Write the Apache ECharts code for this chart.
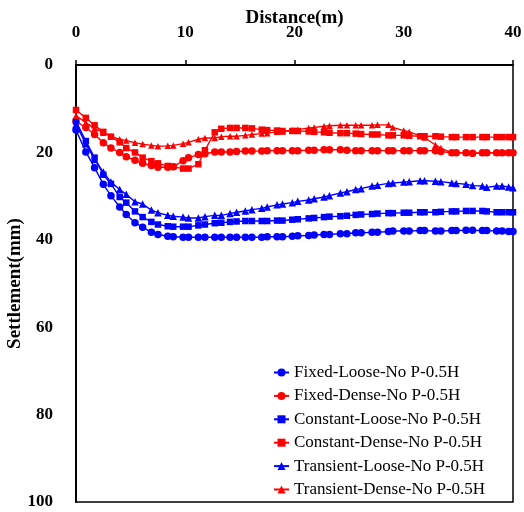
<!DOCTYPE html>
<html>
<head>
<meta charset="utf-8">
<script src="https://cdn.jsdelivr.net/npm/echarts@6/dist/echarts.min.js"></script>
<style>
  html, body { margin: 0; padding: 0; background: #fff; }
  #chart { width: 524px; height: 512px; }
</style>
</head>
<body>
<div id="chart"></div>
<script>
// distance along the section (m)
const distance = [0, 0.9, 1.7, 2.5, 3.2, 4.0, 4.6, 5.4, 6.1, 6.9, 7.5, 8.4, 8.9, 9.8, 10.3,
  11.2, 11.8, 12.7, 13.3, 14.1, 14.7, 15.5, 16.1, 17.0, 17.5, 18.4, 18.9, 19.8, 20.3, 21.3,
  21.8, 22.7, 23.2, 24.2, 24.8, 25.6, 26.1, 27.1, 27.6, 28.6, 29.0, 30.0, 30.5, 31.5, 31.9,
  32.9, 33.4, 34.4, 34.8, 35.7, 36.3, 37.2, 37.6, 38.5, 39.0, 39.6, 40.0]

// settlement (mm)
const fixedLoose = [14.9, 19.9, 23.5, 27.3, 29.9, 32.5, 34.2, 36.1, 37.1, 38.3, 38.8, 39.2, 39.3, 39.4, 39.4,
  39.4, 39.4, 39.4, 39.4, 39.4, 39.4, 39.4, 39.4, 39.4, 39.3, 39.3, 39.3, 39.2, 39.1, 39.0,
  38.9, 38.8, 38.8, 38.6, 38.6, 38.4, 38.4, 38.3, 38.3, 38.1, 38.0, 38.0, 38.0, 37.9, 37.9,
  38.0, 38.0, 37.9, 37.9, 37.8, 37.8, 37.9, 37.9, 38.0, 38.0, 38.1, 38.1]
const fixedDense = [12.9, 14.3, 15.9, 17.8, 19.0, 20.0, 21.0, 21.8, 22.5, 23.0, 23.4, 23.4, 23.3, 21.9, 21.2,
  20.5, 20.3, 19.9, 19.9, 19.9, 19.8, 19.7, 19.7, 19.7, 19.6, 19.6, 19.6, 19.6, 19.6, 19.5,
  19.5, 19.4, 19.4, 19.4, 19.5, 19.6, 19.6, 19.6, 19.6, 19.6, 19.6, 19.6, 19.6, 19.6, 19.6,
  19.6, 19.8, 20.1, 20.1, 20.1, 20.2, 20.1, 20.1, 20.1, 20.1, 20.1, 20.1]
const constantLoose = [12.9, 17.4, 21.2, 25.1, 27.2, 30.2, 31.5, 33.5, 34.8, 35.9, 36.5, 36.9, 37.0, 37.0, 37.0,
  36.7, 36.5, 36.2, 36.1, 35.9, 35.8, 35.7, 35.7, 35.7, 35.7, 35.6, 35.6, 35.4, 35.3, 35.1,
  35.0, 34.8, 34.7, 34.6, 34.5, 34.3, 34.2, 34.1, 34.0, 33.9, 33.9, 33.8, 33.8, 33.7, 33.7,
  33.7, 33.6, 33.5, 33.5, 33.4, 33.4, 33.4, 33.5, 33.7, 33.7, 33.7, 33.7]
const constantDense = [10.3, 12.1, 13.8, 15.3, 16.4, 17.7, 19.0, 20.0, 21.2, 22.0, 22.5, 23.1, 23.3, 23.7, 23.7,
  22.7, 19.5, 15.4, 14.6, 14.4, 14.4, 14.4, 14.5, 14.8, 14.9, 15.0, 15.1, 15.1, 15.1, 15.2,
  15.3, 15.4, 15.5, 15.6, 15.6, 15.7, 15.8, 15.9, 15.9, 16.1, 16.1, 16.1, 16.2, 16.3, 16.3,
  16.3, 16.4, 16.5, 16.5, 16.5, 16.5, 16.5, 16.5, 16.5, 16.5, 16.5, 16.5]
const transientLoose = [13.6, 18.0, 21.6, 24.5, 26.8, 28.5, 29.6, 31.3, 31.8, 33.2, 33.8, 34.4, 34.6, 34.8, 35.0,
  35.0, 34.7, 34.4, 34.4, 34.0, 33.7, 33.4, 33.1, 32.8, 32.5, 32.0, 31.8, 31.5, 31.2, 30.9,
  30.6, 30.2, 29.9, 29.3, 29.0, 28.5, 28.3, 27.7, 27.5, 27.1, 27.0, 26.8, 26.7, 26.5, 26.5,
  26.6, 26.7, 27.0, 27.1, 27.3, 27.6, 27.7, 28.0, 27.7, 27.7, 27.9, 28.1]
const transientDense = [11.6, 13.2, 14.5, 15.5, 16.3, 17.0, 17.3, 17.8, 18.1, 18.4, 18.6, 18.5, 18.4, 18.0, 17.7,
  17.0, 16.7, 16.7, 16.4, 16.3, 16.3, 16.1, 15.9, 15.7, 15.6, 15.3, 15.2, 14.9, 14.8, 14.4,
  14.3, 14.0, 13.9, 13.8, 13.8, 13.8, 13.8, 13.8, 13.7, 13.7, 14.3, 15.0, 15.3, 16.2, 16.6,
  18.3, 19.0, 20.1, 20.1, 20.1, 20.2, 20.1, 20.1, 20.1, 20.1, 20.1, 20.1]

const xTicks = [0, 10, 20, 30, 40]
const yTicks = [0, 20, 40, 60, 80, 100]

const FONT = "'Liberation Serif', 'Times New Roman', serif"
const BLUE = '#0000ff'
const RED = '#ff0000'

function pairs(ys) {
  return distance.map((x, i) => [x, ys[i]])
}

function line(name, ys, color, symbol, size) {
  return {
    name,
    type: 'line',
    data: pairs(ys),
    symbol,
    symbolSize: size,
    showSymbol: true,
    lineStyle: { color, width: 1.4 },
    itemStyle: { color, borderWidth: 0 },
    emphasis: { disabled: true },
    animation: false
  }
}

const chart = echarts.init(document.getElementById('chart'))
chart.setOption({
  backgroundColor: '#fff',
  animation: false,
  grid: {
    left: 76, top: 65, right: 11, bottom: 10,
    outerBoundsMode: 'none', containLabel: false,
    show: true, borderColor: '#000', borderWidth: 1.5
  },
  legend: {
    orient: 'vertical',
    left: 268, top: 359,
    itemWidth: 15, itemHeight: 10, itemGap: 6.4,
    textStyle: { fontFamily: FONT, fontSize: 17, color: '#000' },
    data: ['Fixed-Loose-No P-0.5H', 'Fixed-Dense-No P-0.5H', 'Constant-Loose-No P-0.5H',
      'Constant-Dense-No P-0.5H', 'Transient-Loose-No P-0.5H', 'Transient-Dense-No P-0.5H']
  },
  xAxis: {
    type: 'value', position: 'top',
    min: xTicks[0], max: xTicks[xTicks.length - 1], interval: 10,
    name: 'Distance(m)', nameLocation: 'middle', nameGap: 37, nameMoveOverlap: false,
    nameTextStyle: { fontFamily: FONT, fontSize: 19, fontWeight: 'bold', color: '#000' },
    axisLine: { lineStyle: { color: '#000', width: 2 } },
    axisTick: { show: true, inside: false, length: 5, lineStyle: { color: '#000', width: 1.5 } },
    axisLabel: { fontFamily: FONT, fontSize: 17, fontWeight: 'bold', color: '#000', margin: 24 },
    splitLine: { show: false }
  },
  yAxis: {
    type: 'value', inverse: true,
    min: yTicks[0], max: yTicks[yTicks.length - 1], interval: 20,
    name: 'Settlement(mm)', nameLocation: 'middle', nameGap: 51, nameMoveOverlap: false,
    nameTextStyle: { fontFamily: FONT, fontSize: 19, fontWeight: 'bold', color: '#000' },
    axisLine: { lineStyle: { color: '#000', width: 2 } },
    axisTick: { show: false },
    axisLabel: { fontFamily: FONT, fontSize: 17, fontWeight: 'bold', color: '#000', margin: 23 },
    splitLine: { show: false }
  },
  series: [
    line('Fixed-Loose-No P-0.5H', fixedLoose, BLUE, 'circle', 7.5),
    line('Fixed-Dense-No P-0.5H', fixedDense, RED, 'circle', 7.5),
    line('Constant-Loose-No P-0.5H', constantLoose, BLUE, 'rect', 6.5),
    line('Constant-Dense-No P-0.5H', constantDense, RED, 'rect', 6.5),
    line('Transient-Loose-No P-0.5H', transientLoose, BLUE, 'triangle', 7.5),
    line('Transient-Dense-No P-0.5H', transientDense, RED, 'triangle', 6.5)
  ]
})
</script>
</body>
</html>
